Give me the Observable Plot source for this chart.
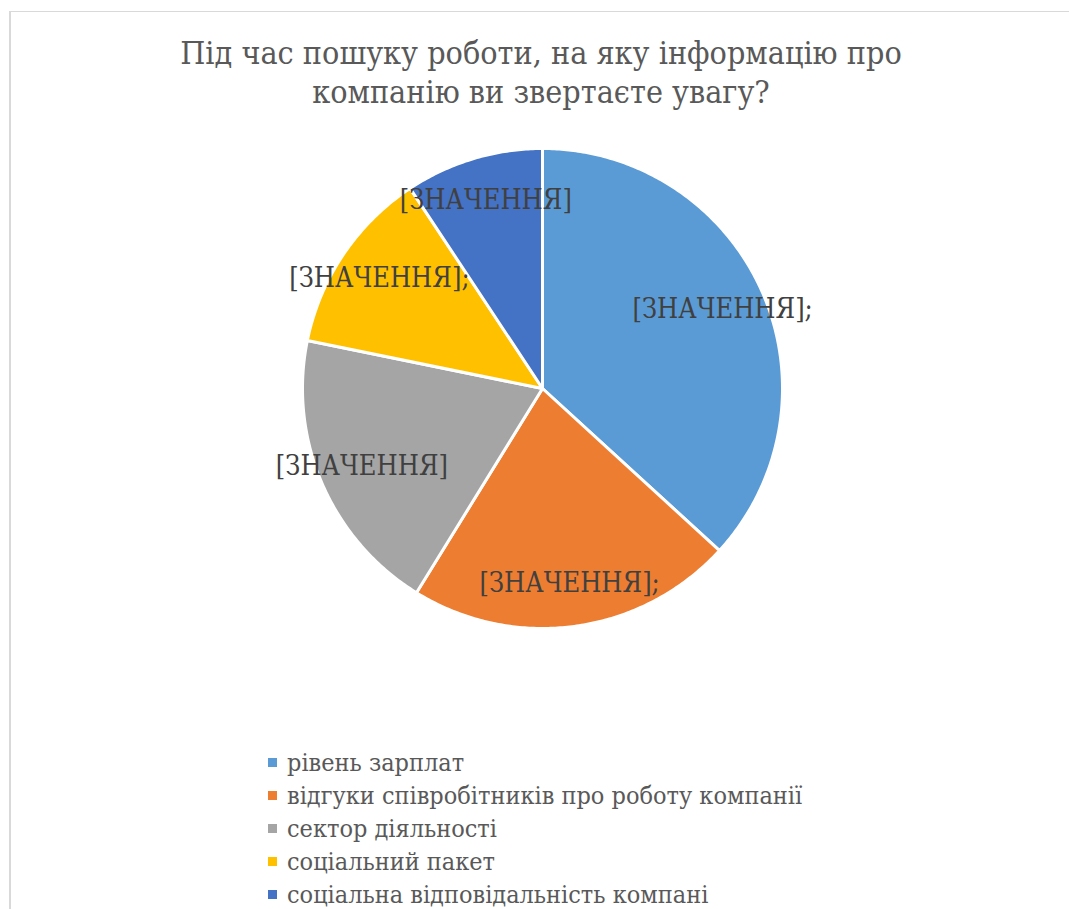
<!DOCTYPE html>
<html><head><meta charset="utf-8">
<script src="https://cdn.jsdelivr.net/npm/d3@7"></script>
<script src="https://cdn.jsdelivr.net/npm/@observablehq/plot@0.6"></script>
<style>
body{margin:0;background:#fff;overflow:hidden}
#wrap{position:relative;width:1069px;height:909px;overflow:hidden;background:#fff}
#frame{position:absolute;left:9px;top:11px;width:1100px;height:1000px;border-left:2px solid #d9d9d9;border-top:1px solid #d9d9d9}
.serif{font-family:"DejaVu Serif",serif;font-stretch:condensed}
#title{position:absolute;left:0;width:1082px;top:34px;text-align:center;font-size:32px;color:#595959;line-height:39px}
#chart{position:absolute;left:0;top:0}
#legend{position:absolute;left:268px;top:746px;font-size:25px;color:#595959}
.item{height:33px;display:flex;align-items:center;white-space:nowrap}
.sw{width:9px;height:9px;margin-right:10px;flex:none}
svg text{font-stretch:condensed}
</style></head>
<body><div id="wrap"><div id="frame"></div><div id="chart"></div><div id="title" class="serif"></div><div id="legend" class="serif"></div></div>
<script>
const titleLines = ["Під час пошуку роботи, на яку інформацію про", "компанію ви звертаєте увагу?"];
const categories = ["рівень зарплат", "відгуки співробітників про роботу компанії", "сектор діяльності", "соціальний пакет", "соціальна відповідальність компані"];
const values = [36.8, 22.0, 19.4, 12.5, 9.3];
const labels = ["[ЗНАЧЕННЯ];", "[ЗНАЧЕННЯ];", "[ЗНАЧЕННЯ]", "[ЗНАЧЕННЯ];", "[ЗНАЧЕННЯ]"];
const colors = ["#5B9BD5", "#ED7D31", "#A5A5A5", "#FFC000", "#4472C4"];

document.getElementById("title").innerHTML = titleLines.join("<br>");

const arcs = d3.pie().sort(null).value(d => d)(values);
const pts = [];
const labelData = [];
arcs.forEach((a, i) => {
  const n = Math.max(2, Math.ceil((a.endAngle - a.startAngle) / 0.01));
  pts.push({cat: categories[i], x: 0, y: 0});
  for (let k = 0; k <= n; k++) {
    const t = a.startAngle + (a.endAngle - a.startAngle) * k / n;
    pts.push({cat: categories[i], x: Math.sin(t), y: Math.cos(t)});
  }
  const m = (a.startAngle + a.endAngle) / 2;
  labelData.push({text: labels[i], x: 0.82 * Math.sin(m), y: 0.82 * Math.cos(m)});
});

const chart = Plot.plot({
  width: 1069, height: 740,
  marginTop: 0, marginBottom: 0, marginLeft: 0, marginRight: 0,
  x: {domain: [-1, 1], range: [302, 782], axis: null},
  y: {domain: [-1, 1], range: [628, 148], axis: null},
  color: {domain: categories, range: colors},
  style: {background: "transparent"},
  marks: [
    Plot.line(pts, {x: "x", y: "y", z: "cat", fill: "cat", stroke: "white", strokeWidth: 3, strokeLinejoin: "round", curve: "linear-closed"}),
    Plot.text(labelData, {x: "x", y: "y", text: "text", fill: "#404040", fontSize: 27, fontFamily: "'DejaVu Serif',serif"})
  ]
});
document.getElementById("chart").appendChild(chart);

const legend = document.getElementById("legend");
categories.forEach((c, i) => {
  const row = document.createElement("div");
  row.className = "item";
  row.innerHTML = `<span class="sw" style="background:${colors[i]}"></span><span>${c}</span>`;
  legend.appendChild(row);
});
</script>
</body></html>
